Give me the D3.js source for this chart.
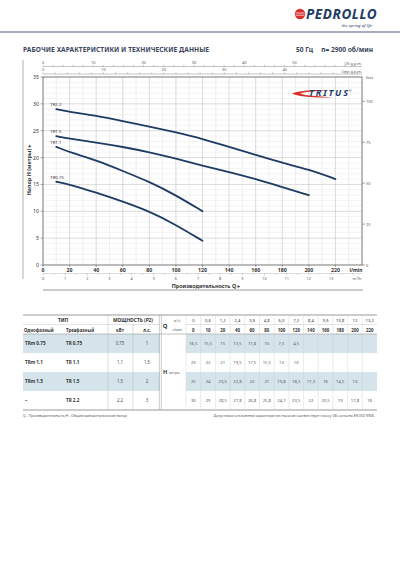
<!DOCTYPE html>
<html>
<head>
<meta charset="utf-8">
<script src="https://cdn.jsdelivr.net/npm/d3@7"></script>
<style>
  body { margin: 0; background: #fff; }
  svg text { font-family: "Noto Sans", "DejaVu Sans", sans-serif; }
</style>
</head>
<body>
<script>
// ---- данные ----
var flowLmin = [0, 10, 20, 40, 60, 80, 100, 120, 140, 160, 180, 200, 220];
var flowM3h = ["0", "0,6", "1,2", "2,4", "3,6", "4,8", "6,0", "7,2", "8,4", "9,6", "10,8", "12", "13,2"];
var modelsMono = ["TRm 0.75", "TRm 1.1", "TRm 1.5", "–"];
var modelsTri = ["TR 0.75", "TR 1.1", "TR 1.5", "TR 2.2"];
var powerKw = ["0,75", "1,1", "1,5", "2,2"];
var powerHp = ["1", "1,5", "2", "3"];
var curveNames = ["TR0.75", "TR1.1", "TR1.5", "TR2.2"];
var headTR075 = [16.5, 15.5, 15, 13.5, 11.8, 10, 7.5, 4.5];
var headTR11 = [23, 22, 21, 19.5, 17.5, 15.5, 13, 10];
var headTR15 = [25, 24, 23.5, 22.8, 22, 21, 19.8, 18.5, 17.3, 16, 14.5, 13];
var headTR22 = [30, 29, 28.5, 27.8, 26.8, 25.8, 24.7, 23.5, 22, 20.5, 19, 17.8, 16];
var heads = [headTR075, headTR11, headTR15, headTR22];
var lminTicks = [0, 20, 40, 60, 80, 100, 120, 140, 160, 180, 200, 220];
var headTicks = [0, 5, 10, 15, 20, 25, 30, 35];
var feetTicks = [0, 25, 50, 75, 100];
var usTicks = [0, 10, 20, 30, 40, 50];
var impTicks = [0, 10, 20, 30, 40];
var m3hTicks = [0, 1, 2, 3, 4, 5, 6, 7, 8, 9, 10, 11, 12, 13];

var navy = "#1d3b63", ink = "#3a4660", grey = "#555";

var svg = d3.select("body").append("svg")
    .attr("width", 400).attr("height", 566);
svg.append("rect").attr("width", 400).attr("height", 566).attr("fill", "#fff");

// ---- шапка ----
svg.append("circle").attr("cx", 300).attr("cy", 14).attr("r", 5.2).attr("fill", "#d9302c");
svg.append("path").attr("d", "M295.5,13 h9 M295.5,15.2 h9").attr("stroke", "#fff").attr("stroke-width", 0.7);
svg.append("text").attr("x", 306).attr("y", 19).text("PEDROLLO")
    .attr("font-size", 13.5).attr("font-weight", "bold").attr("font-style", "italic")
    .attr("fill", navy).attr("letter-spacing", -0.6).attr("textLength", 70);
svg.append("text").attr("x", 372).attr("y", 26.5).attr("text-anchor", "end").text("the spring of life")
    .attr("font-size", 4.2).attr("font-style", "italic").attr("fill", navy);
svg.append("line").attr("x1", 0).attr("x2", 400).attr("y1", 32).attr("y2", 32)
    .attr("stroke", "#4a5a78").attr("stroke-width", 1);

svg.append("text").attr("x", 23).attr("y", 51.5).text("РАБОЧИЕ ХАРАКТЕРИСТИКИ И ТЕХНИЧЕСКИЕ ДАННЫЕ")
    .attr("font-size", 6.6).attr("font-weight", "bold").attr("fill", ink).attr("textLength", 186);
svg.append("text").attr("x", 296).attr("y", 51.5).text("50 Гц")
    .attr("font-size", 6.6).attr("font-weight", "bold").attr("fill", ink);
svg.append("text").attr("x", 373).attr("y", 51.5).attr("text-anchor", "end").text("n= 2900 об/мин")
    .attr("font-size", 6.6).attr("font-weight", "bold").attr("fill", ink);

// ---- график ----
var x = d3.scaleLinear().domain([0, 240]).range([43, 362]);
var y = d3.scaleLinear().domain([0, 35]).range([265, 77]);
var yFeet = d3.scaleLinear().domain([0, 35 * 3.2808]).range([265, 77]);
var xUS = d3.scaleLinear().domain([0, 240 / 3.7854]).range([43, 362]);
var xImp = d3.scaleLinear().domain([0, 240 / 4.5461]).range([43, 362]);
var xM3h = d3.scaleLinear().domain([0, 14.4]).range([43, 362]);

var grid = svg.append("g");
grid.selectAll(".hmin").data(d3.range(1, 35)).enter().append("line")
    .attr("x1", 43).attr("x2", 362).attr("y1", function (d) { return y(d); }).attr("y2", function (d) { return y(d); })
    .attr("stroke", function (d) { return d % 5 === 0 ? "#c4c4c4" : "#ececec"; }).attr("stroke-width", 0.6);
grid.selectAll(".vmin").data(d3.range(10, 240, 10)).enter().append("line")
    .attr("y1", 77).attr("y2", 265).attr("x1", function (d) { return x(d); }).attr("x2", function (d) { return x(d); })
    .attr("stroke", function (d) { return d % 20 === 0 ? "#c4c4c4" : "#e4e4e4"; }).attr("stroke-width", 0.6);
svg.append("rect").attr("x", 43).attr("y", 77).attr("width", 319).attr("height", 188)
    .attr("fill", "none").attr("stroke", "#555").attr("stroke-width", 0.8);

// левая ось
svg.append("g").selectAll("text").data(headTicks).enter().append("text")
    .attr("x", 39).attr("y", function (d) { return y(d) + 2; }).attr("text-anchor", "end")
    .attr("font-size", 5.2).attr("fill", "#333").text(function (d) { return d; });
svg.append("g").selectAll("line").data(headTicks).enter().append("line")
    .attr("x1", 40.5).attr("x2", 43).attr("y1", function (d) { return y(d); }).attr("y2", function (d) { return y(d); })
    .attr("stroke", "#555").attr("stroke-width", 0.5);
svg.append("text").attr("transform", "translate(31,170) rotate(-90)").attr("text-anchor", "middle")
    .attr("font-size", 5.4).attr("font-weight", "bold").attr("fill", "#333").text("Напор H (метры) ▸");
svg.append("line").attr("x1", 23).attr("x2", 23).attr("y1", 60).attr("y2", 279)
    .attr("stroke", "#999").attr("stroke-width", 0.8);

// правая ось (feet)
svg.append("g").selectAll("line").data(feetTicks).enter().append("line")
    .attr("x1", 362).attr("x2", 365).attr("y1", function (d) { return yFeet(d); }).attr("y2", function (d) { return yFeet(d); })
    .attr("stroke", "#555").attr("stroke-width", 0.5);
svg.append("g").selectAll("text").data(feetTicks).enter().append("text")
    .attr("x", 366).attr("y", function (d) { return yFeet(d) + 1.5; })
    .attr("font-size", 3.9).attr("fill", "#555").text(function (d) { return d; });
svg.append("text").attr("x", 366).attr("y", 79).attr("font-size", 3.9).attr("fill", "#555").text("feet");

// верхние оси
function topAxis(scale, ticks, maxV, lineY, label) {
    var g = svg.append("g");
    g.append("line").attr("x1", 43).attr("x2", 362).attr("y1", lineY).attr("y2", lineY)
        .attr("stroke", "#888").attr("stroke-width", 0.5);
    g.selectAll(".t").data(d3.range(0, maxV, 2)).enter().append("line")
        .attr("x1", function (d) { return scale(d); }).attr("x2", function (d) { return scale(d); })
        .attr("y1", lineY - (1.6)).attr("y2", lineY)
        .attr("stroke", "#888").attr("stroke-width", 0.5);
    g.selectAll("text").data(ticks).enter().append("text")
        .attr("x", function (d) { return scale(d); }).attr("y", lineY - 2.6).attr("text-anchor", "middle")
        .attr("font-size", 3.9).attr("fill", "#555").text(function (d) { return d; });
    g.append("text").attr("x", 362).attr("y", lineY - 1.2).attr("text-anchor", "end")
        .attr("font-size", 3.9).attr("fill", "#555").text(label);
}
topAxis(xUS, usTicks, 63, 66.5, "US g.p.m.");
topAxis(xImp, impTicks, 53, 74, "Imp g.p.m.");

// нижние оси
svg.append("g").selectAll("text").data(lminTicks).enter().append("text")
    .attr("x", function (d) { return x(d); }).attr("y", 271.5).attr("text-anchor", "middle")
    .attr("font-size", 5.2).attr("font-weight", "bold").attr("fill", "#333").text(function (d) { return d; });
svg.append("g").selectAll("line").data(lminTicks).enter().append("line")
    .attr("x1", function (d) { return x(d); }).attr("x2", function (d) { return x(d); })
    .attr("y1", 265).attr("y2", 267).attr("stroke", "#555").attr("stroke-width", 0.5);
svg.append("text").attr("x", 356).attr("y", 271.5).attr("text-anchor", "middle")
    .attr("font-size", 5).attr("font-weight", "bold").attr("fill", "#333").text("l/min");
svg.append("line").attr("x1", 43).attr("x2", 362).attr("y1", 273.5).attr("y2", 273.5)
    .attr("stroke", "#aaa").attr("stroke-width", 0.4);
svg.append("g").selectAll("line").data(d3.range(0, 14.4, 0.5)).enter().append("line")
    .attr("x1", function (d) { return xM3h(d); }).attr("x2", function (d) { return xM3h(d); })
    .attr("y1", 273.5).attr("y2", function (d) { return d % 1 === 0 ? 275.5 : 274.8; })
    .attr("stroke", "#888").attr("stroke-width", 0.4);
svg.append("g").selectAll("text").data(m3hTicks).enter().append("text")
    .attr("x", function (d) { return xM3h(d); }).attr("y", 280).attr("text-anchor", "middle")
    .attr("font-size", 3.9).attr("fill", "#555").text(function (d) { return d; });
svg.append("text").attr("x", 357).attr("y", 280).attr("text-anchor", "middle")
    .attr("font-size", 3.9).attr("fill", "#555").text("m³/h");
svg.append("text").attr("x", 206).attr("y", 287.5).attr("text-anchor", "middle")
    .attr("font-size", 5.4).attr("font-weight", "bold").attr("fill", "#333").text("Производительность Q ▸");
svg.append("line").attr("x1", 43).attr("x2", 363).attr("y1", 290).attr("y2", 290)
    .attr("stroke", "#bbb").attr("stroke-width", 1.4);

// кривые
var line = d3.line()
    .x(function (d) { return x(d[0]); })
    .y(function (d) { return y(d[1]); })
    .curve(d3.curveBasis);
heads.forEach(function (h, k) {
    var pts = h.map(function (v, i) { return [flowLmin[i], v]; }).slice(1);
    svg.append("path").attr("d", line(pts)).attr("fill", "none")
        .attr("stroke", navy).attr("stroke-width", 1.8).attr("stroke-linecap", "round");
    svg.append("text").attr("x", x(pts[0][0]) - 6).attr("y", y(pts[0][1]) - 3)
        .attr("font-size", 4.3).attr("fill", "#333").text(curveNames[k]);
});

// логотип TRITUS
svg.append("path").attr("d", "M328,90.2 C312,89.5 298,91 292,93.5 C298,96.5 314,98 333,97.4 C316,96.4 304,95.2 300,93.6 C304,92 314,91 328,90.2 Z")
    .attr("fill", "#d9302c");
svg.append("text").attr("x", 309).attr("y", 96).text("TRITUS")
    .attr("font-size", 9).attr("font-weight", "bold").attr("font-style", "italic")
    .attr("fill", navy).attr("textLength", 39);
svg.append("text").attr("x", 349).attr("y", 91.5).text("®").attr("font-size", 3).attr("fill", navy);

// ---- таблица ----
var colW = (377 - 186) / 13;
var rowTop = [334, 353, 372, 391];
var rowH = 19;
var t = svg.append("g");

rowTop.forEach(function (ry, i) {
    if (i % 2 === 0) {
        t.append("rect").attr("x", 23).attr("y", ry).attr("width", 137).attr("height", rowH).attr("fill", "#d5e3ea");
        t.append("rect").attr("x", 186).attr("y", ry).attr("width", 191).attr("height", rowH).attr("fill", "#d5e3ea");
    }
});
// линии
t.append("line").attr("x1", 23).attr("x2", 377).attr("y1", 315).attr("y2", 315).attr("stroke", "#999").attr("stroke-width", 1.2);
t.append("line").attr("x1", 23).attr("x2", 377).attr("y1", 410).attr("y2", 410).attr("stroke", "#999").attr("stroke-width", 1.2);
t.append("line").attr("x1", 23).attr("x2", 377).attr("y1", 334).attr("y2", 334).attr("stroke", "#999").attr("stroke-width", 0.6);
t.append("line").attr("x1", 23).attr("x2", 160).attr("y1", 324.5).attr("y2", 324.5).attr("stroke", "#bbb").attr("stroke-width", 0.4);
t.append("line").attr("x1", 186).attr("x2", 377).attr("y1", 324.5).attr("y2", 324.5).attr("stroke", "#bbb").attr("stroke-width", 0.4);
[108, 133].forEach(function (vx) {
    t.append("line").attr("x1", vx).attr("x2", vx).attr("y1", vx === 108 ? 315 : 324.5).attr("y2", 410).attr("stroke", "#bbb").attr("stroke-width", 0.5);
});
[159.3, 161.3].forEach(function (vx) {
    t.append("line").attr("x1", vx).attr("x2", vx).attr("y1", 315).attr("y2", 410).attr("stroke", "#999").attr("stroke-width", 0.5);
});
d3.range(0, 13).forEach(function (i) {
    var vx = 186 + i * colW;
    t.append("line").attr("x1", vx).attr("x2", vx).attr("y1", 315).attr("y2", 410).attr("stroke", "#ccc").attr("stroke-width", 0.4);
});

function cell(txt, cx, cy, opts) {
    opts = opts || {};
    return t.append("text").attr("x", cx).attr("y", cy).attr("text-anchor", opts.anchor || "middle")
        .attr("font-size", opts.size || 4.6).attr("font-weight", opts.bold ? "bold" : "normal")
        .attr("fill", opts.color || "#333").text(txt);
}
cell("ТИП", 63, 322, { bold: true, size: 4.8 });
cell("МОЩНОСТЬ (P2)", 133, 322, { bold: true, size: 4.8 });
cell("Однофазный", 24, 331.5, { bold: true, anchor: "start", size: 4.4 });
cell("Трехфазный", 66, 331.5, { bold: true, anchor: "start", size: 4.4 });
cell("кВт", 120, 331.5, { bold: true, size: 4.4 });
cell("л.с.", 147, 331.5, { bold: true, size: 4.4 });
cell("Q", 165, 328, { bold: true, size: 6 });
cell("м³/ч", 177, 321.5, { size: 3.2, color: "#666" });
cell("л/мин", 177, 331, { size: 3.2, color: "#666" });
flowM3h.forEach(function (v, i) { cell(v, 186 + (i + 0.5) * colW, 321.5, { size: 4.2 }); });
flowLmin.forEach(function (v, i) { cell(v, 186 + (i + 0.5) * colW, 331.5, { size: 4.4, bold: true }); });

rowTop.forEach(function (ry, i) {
    var cy = ry + rowH / 2 + 1.6;
    cell(modelsMono[i], 25, cy, { bold: true, anchor: "start", size: 4.6 });
    cell(modelsTri[i], 66, cy, { bold: true, anchor: "start", size: 4.6 });
    cell(powerKw[i], 120, cy, { size: 4.4, color: "#555" });
    cell(powerHp[i], 147, cy, { size: 4.4, color: "#555" });
    heads[i].forEach(function (v, j) {
        cell(String(v).replace(".", ","), 186 + (j + 0.5) * colW, cy, { size: 4.2, color: "#555" });
    });
});
cell("H", 163, 374, { bold: true, anchor: "start", size: 5.6 });
cell("метры", 169, 373.5, { anchor: "start", size: 3.4, color: "#666" });

// сноски
t.append("text").attr("x", 23).attr("y", 417).attr("font-size", 3.5).attr("fill", grey)
    .text("Q - Производительность   H - Общий манометрический напор");
t.append("text").attr("x", 375).attr("y", 417).attr("text-anchor", "end").attr("font-size", 3.5).attr("fill", grey)
    .text("Допустимое отклонение характеристик насосов соответствует классу 3B согласно EN ISO 9906.");
</script>
</body>
</html>
